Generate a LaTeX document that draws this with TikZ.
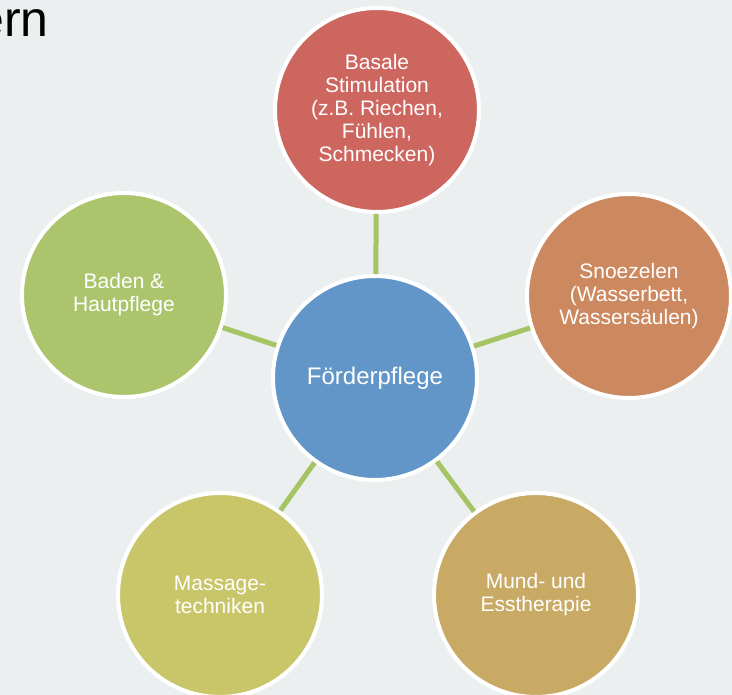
\documentclass[tikz,border=0pt]{standalone}
\usepackage{fontspec}
\setmainfont{Liberation Sans}
\definecolor{bgc}{HTML}{EBEFF0}
\definecolor{linkc}{HTML}{A5C464}
\definecolor{cblue}{HTML}{6296C8}
\definecolor{cred}{HTML}{CD665F}
\definecolor{corange}{HTML}{CC8960}
\definecolor{cgreen}{HTML}{ACC46C}
\definecolor{colive}{HTML}{C9C66A}
\definecolor{cgold}{HTML}{C9AA64}
\tikzset{
  bubble/.style={circle, draw=white, line width=4pt, minimum size=204pt, inner sep=0pt,
    text=white, align=center, font=\fontsize{21}{23}\selectfont},
  hub/.style={bubble, font=\fontsize{24}{26}\selectfont},
  link/.style={draw=linkc, line width=5pt}
}
\begin{document}
\begin{tikzpicture}[x=1pt,y=-1pt]
\useasboundingbox[fill=bgc] (0,0) rectangle (732,695);
\node[anchor=base east, font=\fontsize{50}{56}\selectfont, text=black] (title) at (52,37) {ern};
\node[hub, fill=cblue] (c) at (375,378) {Förderpflege};
\node[bubble, fill=cred] (t) at (377,110) {Basale\\Stimulation\\(z.B. Riechen,\\Fühlen,\\Schmecken)};
\node[bubble, fill=corange] (r) at (629,296) {Snoezelen\\(Wasserbett,\\Wassersäulen)};
\node[bubble, fill=cgold] (br) at (536,595) {Mund- und\\Esstherapie};
\node[bubble, fill=colive] (bl) at (220,595) {Massage-\\techniken};
\node[bubble, fill=cgreen] (l) at (124,295) {Baden \&\\Hautpflege};
\draw[link] (c) -- (t);
\draw[link] (c) -- (r);
\draw[link] (c) -- (br);
\draw[link] (c) -- (bl);
\draw[link] (c) -- (l);
\end{tikzpicture}
\end{document}
